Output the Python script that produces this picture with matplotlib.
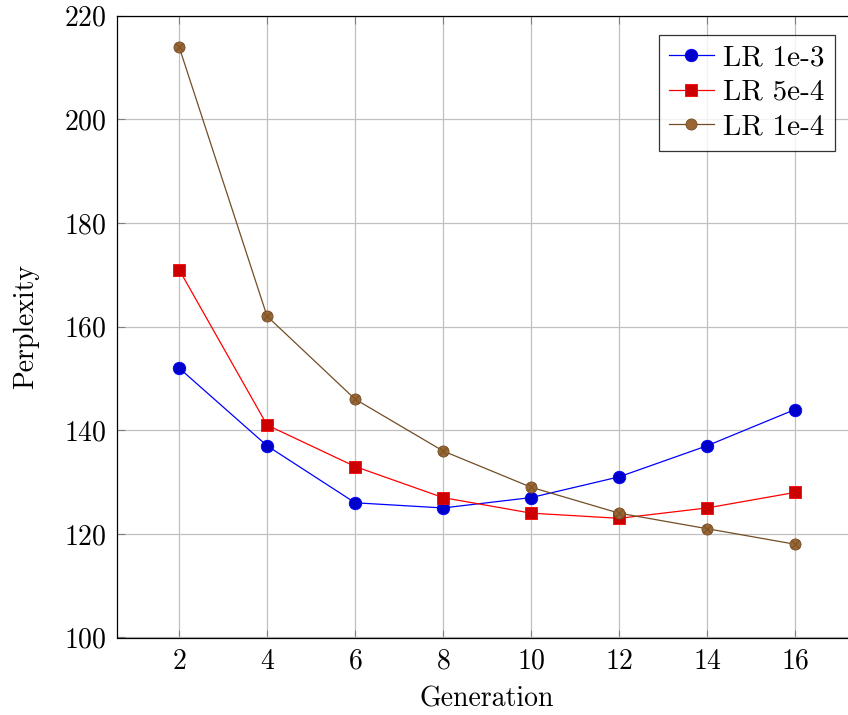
import matplotlib
matplotlib.use("Agg")
import matplotlib.pyplot as plt

plt.rcParams['font.family'] = 'cmr10'
plt.rcParams['axes.formatter.use_mathtext'] = True
plt.rcParams['mathtext.fontset'] = 'cm'

generation = [2, 4, 6, 8, 10, 12, 14, 16]
lr_1e3 = [152, 137, 126, 125, 127, 131, 137, 144]
lr_5e4 = [171, 141, 133, 127, 124, 123, 125, 128]
lr_1e4 = [214, 162, 146, 136, 129, 124, 121, 118]
labels = ['LR 1e-3', 'LR 5e-4', 'LR 1e-4']

W, H = 848, 715
fig = plt.figure(figsize=(W / 100, H / 100), dpi=100)
# axes run a bit past the right edge of the picture, like the original crop
ax = fig.add_axes([117.5 / W, 1 - 637.5 / H, (856.6 - 117.5) / W, (637.5 - 15.7) / H])

ax.plot(generation, lr_1e3, color='#0000ff', lw=0.9, marker='o', ms=9,
        mfc='#0000cc', mec='#0000ff', mew=0.6, label=labels[0], zorder=3)
ax.plot(generation, lr_5e4, color='#ff0000', lw=0.9, marker='s', ms=8,
        mfc='#cc0000', mec='#ff0000', mew=0.6, label=labels[1], zorder=3)
ax.plot(generation, lr_1e4, color='#734d26', lw=0.9, marker='o', ms=8,
        mfc='#996633', mec='#734d26', mew=0.6, label=labels[2], zorder=3)
# otimes marks: cross on the brown circles
ax.plot(generation, lr_1e4, ls='none', marker='x', ms=5.5, mec='#734d26',
        mew=0.6, zorder=4)

ax.set_xlim(0.6, 17.4)
ax.set_ylim(100, 220)
ax.set_xticks(generation)
ax.set_yticks(range(100, 221, 20))
ax.grid(True, color='#c0c0c0', lw=0.9)
ax.set_axisbelow(True)
ax.tick_params(direction='in', length=6, width=0.8, color='#808080',
               labelsize=20, top=True, right=True, pad=8)
for s in ax.spines.values():
    s.set_linewidth(0.9)

ax.set_xlabel('Generation', fontsize=20, labelpad=8)
ax.set_ylabel('Perplexity', fontsize=20, labelpad=18)

leg = ax.legend(loc='upper right', bbox_to_anchor=((834.5 - 117.5) / (856.6 - 117.5), (637.5 - 34.5) / (637.5 - 15.7)),
                fontsize=21, frameon=True, fancybox=False, edgecolor='black',
                handlelength=1.55, handletextpad=0.3, borderpad=0.35,
                labelspacing=0.28, borderaxespad=0)
leg.get_frame().set_linewidth(0.9)

fig.savefig('out.png', dpi=100)
